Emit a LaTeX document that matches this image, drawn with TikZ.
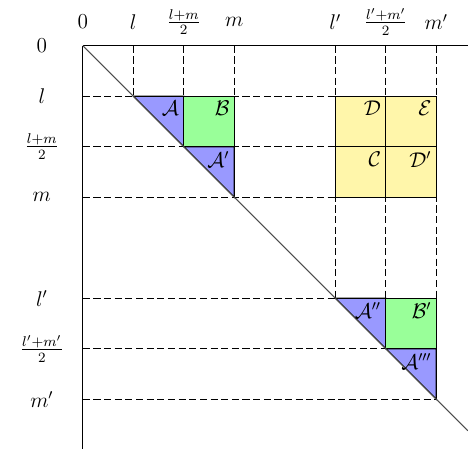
\documentclass[tikz,border=0pt]{standalone}
\usepackage{amsmath}
\begin{document}
\begin{tikzpicture}[x=1cm, y=-1cm, font=\large]
    \definecolor{triColour}{RGB}{153,153,255}
    \definecolor{sqColour}{RGB}{153,255,153}
    \definecolor{blockColour}{RGB}{255,246,170}
    \tikzset{cellLabel/.style={anchor=north east, inner sep=2.5pt},
             guide/.style={dash pattern=on 4pt off 2pt, line width=0.6pt}}

    \def\axisEnd{7.624}

    \useasboundingbox (-1.639,-0.906) rectangle (7.629,7.985);

    % dashed guides
    \foreach \x in {1,2,3}
        \draw[guide] (\x,0) -- (\x,1);
    \foreach \x in {5,6,7}
        \draw[guide] (\x,0) -- (\x,5);
    \foreach \y in {1,2,3}
        \draw[guide] (0,\y) -- (5,\y);
    \foreach \y in {5,6,7}
        \draw[guide] (0,\y) -- (\y,\y);

    % yellow block
    \filldraw[fill=blockColour, draw=black, semithick] (5,1) rectangle (7,3);
    \draw[semithick] (6,1) -- (6,3);
    \draw[semithick] (5,2) -- (7,2);

    % triangles and squares on the diagonal
    \filldraw[fill=triColour, draw=black, semithick] (1,1) -- (2,1) -- (2,2) -- cycle;
    \filldraw[fill=triColour, draw=black, semithick] (2,2) -- (3,2) -- (3,3) -- cycle;
    \filldraw[fill=sqColour, draw=black, semithick] (2,1) rectangle (3,2);
    \filldraw[fill=triColour, draw=black, semithick] (5,5) -- (6,5) -- (6,6) -- cycle;
    \filldraw[fill=triColour, draw=black, semithick] (6,6) -- (7,6) -- (7,7) -- cycle;
    \filldraw[fill=sqColour, draw=black, semithick] (6,5) rectangle (7,6);

    % axes
    \draw[line width=0.8pt] (0,0) -- (\axisEnd,0);
    \draw[line width=0.8pt] (0,0) -- (0,7.980);
    \draw[black!70, semithick] (0,0) -- (\axisEnd,\axisEnd);

    \foreach \p/\t [count=\i] in {0/0, 1/l, 2/\frac{l+m}{2}, 3/m, 5/l', 6/\frac{l'+m'}{2}, 7/m'} {
        \node (top\i) at (\p,-0.47) {$\t$};
        \node (left\i) at (-0.81,\p) {$\t$};
    }

    \node[cellLabel] (labA) at (2,1) {$\mathcal{A}$};
    \node[cellLabel] (labB) at (3,1) {$\mathcal{B}$};
    \node[cellLabel] (labAa) at (3,2) {$\mathcal{A}'$};
    \node[cellLabel] (labD) at (6,1) {$\mathcal{D}$};
    \node[cellLabel] (labE) at (7,1) {$\mathcal{E}$};
    \node[cellLabel] (labC) at (6,2) {$\mathcal{C}$};
    \node[cellLabel] (labDd) at (7,2) {$\mathcal{D}'$};
    \node[cellLabel] (labAb) at (6,5) {$\mathcal{A}''$};
    \node[cellLabel] (labBb) at (7,5) {$\mathcal{B}'$};
    \node[cellLabel] (labAc) at (7,6) {$\mathcal{A}'''$};

\end{tikzpicture}
\end{document}
